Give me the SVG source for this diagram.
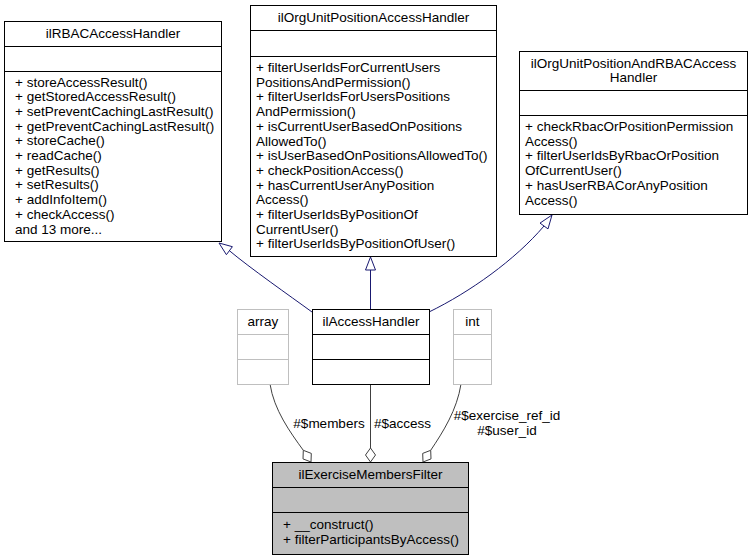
<svg xmlns="http://www.w3.org/2000/svg" width="752" height="560" viewBox="0 0 752 560">
<style>
text{font-family:"Liberation Sans",Arial,Helvetica,sans-serif;font-size:13.5px;fill:#000}
.c{text-anchor:middle}
.box{fill:#fff;stroke:#000;stroke-width:1}
.gbox{fill:#fff;stroke:#bfbfbf;stroke-width:1}
.cur{fill:#bfbfbf;stroke:#000;stroke-width:1}
.sep{stroke:#000;stroke-width:1}
.gsep{stroke:#bfbfbf;stroke-width:1}
.inh{fill:none;stroke:#191970;stroke-width:1}
.inhh{fill:#fff;stroke:#191970;stroke-width:1}
.agg{fill:none;stroke:#404040;stroke-width:1}
.aggh{fill:#fff;stroke:#404040;stroke-width:1}
</style>
<rect width="752" height="560" fill="#fff"/>

<g id="connectors">
  <path class="inh" d="M312,312 C290,296 250,268 229.4,250.7"/>
  <polygon class="inhh" points="219,243 232.4,246.7 226.4,254.7"/>
  <path class="inh" d="M370.5,309 L370.5,270"/>
  <polygon class="inhh" points="370.5,257 375.5,270 365.5,270"/>
  <path class="inh" d="M429,312 C470,292 515,260 544,226"/>
  <polygon class="inhh" points="552,215 548,228.9 540,223.1"/>
  <path class="agg" d="M270,384 C274,410 290,432 303.3,450.3"/>
  <polygon class="aggh" points="311,462 311.3,453.4 303.3,450.3 303,458.9"/>
  <path class="agg" d="M370.5,384 L370.5,448"/>
  <polygon class="aggh" points="370.5,462 375.5,455 370.5,448 365.5,455"/>
  <path class="agg" d="M461,384 C457,410 443,432 430.7,450.3"/>
  <polygon class="aggh" points="423,462 422.7,453.4 430.7,450.3 431,458.9"/>
  <text class="c" x="329" y="427.5">#$members</text>
  <text class="c" x="402.5" y="427.5">#$access</text>
  <text class="c" x="507" y="419.5">#$exercise_ref_id</text>
  <text class="c" x="507" y="434.5">#$user_id</text>
</g>

<g id="ilRBACAccessHandler">
  <rect class="box" x="4.5" y="21.5" width="217" height="220"/>
  <line class="sep" x1="4.5" y1="46.5" x2="221.5" y2="46.5"/>
  <line class="sep" x1="4.5" y1="71.5" x2="221.5" y2="71.5"/>
  <text class="c" x="113" y="38">ilRBACAccessHandler</text>
  <text x="15" y="86.5">+ storeAccessResult()</text>
  <text x="15" y="101.2">+ getStoredAccessResult()</text>
  <text x="15" y="115.9">+ setPreventCachingLastResult()</text>
  <text x="15" y="130.6">+ getPreventCachingLastResult()</text>
  <text x="15" y="145.3">+ storeCache()</text>
  <text x="15" y="160">+ readCache()</text>
  <text x="15" y="174.7">+ getResults()</text>
  <text x="15" y="189.4">+ setResults()</text>
  <text x="15" y="204.1">+ addInfoItem()</text>
  <text x="15" y="218.8">+ checkAccess()</text>
  <text x="15" y="233.5">and 13 more...</text>
</g>

<g id="ilOrgUnitPositionAccessHandler">
  <rect class="box" x="250.5" y="5.5" width="246" height="251"/>
  <line class="sep" x1="250.5" y1="30.5" x2="496.5" y2="30.5"/>
  <line class="sep" x1="250.5" y1="56.5" x2="496.5" y2="56.5"/>
  <text class="c" x="373.5" y="22">ilOrgUnitPositionAccessHandler</text>
  <text x="256" y="72">+ filterUserIdsForCurrentUsers</text>
  <text x="256" y="86.7">PositionsAndPermission()</text>
  <text x="256" y="101.4">+ filterUserIdsForUsersPositions</text>
  <text x="256" y="116.1">AndPermission()</text>
  <text x="256" y="130.8">+ isCurrentUserBasedOnPositions</text>
  <text x="256" y="145.5">AllowedTo()</text>
  <text x="256" y="160.2">+ isUserBasedOnPositionsAllowedTo()</text>
  <text x="256" y="174.9">+ checkPositionAccess()</text>
  <text x="256" y="189.6">+ hasCurrentUserAnyPosition</text>
  <text x="256" y="204.3">Access()</text>
  <text x="256" y="219">+ filterUserIdsByPositionOf</text>
  <text x="256" y="233.7">CurrentUser()</text>
  <text x="256" y="248.4">+ filterUserIdsByPositionOfUser()</text>
</g>

<g id="ilOrgUnitPositionAndRBACAccessHandler">
  <rect class="box" x="519.5" y="51.5" width="228" height="163"/>
  <line class="sep" x1="519.5" y1="90.5" x2="747.5" y2="90.5"/>
  <line class="sep" x1="519.5" y1="115.5" x2="747.5" y2="115.5"/>
  <text class="c" x="633.5" y="68">ilOrgUnitPositionAndRBACAccess</text>
  <text class="c" x="633.5" y="82">Handler</text>
  <text x="525" y="131">+ checkRbacOrPositionPermission</text>
  <text x="525" y="145.7">Access()</text>
  <text x="525" y="160.4">+ filterUserIdsByRbacOrPosition</text>
  <text x="525" y="175.1">OfCurrentUser()</text>
  <text x="525" y="189.8">+ hasUserRBACorAnyPosition</text>
  <text x="525" y="204.5">Access()</text>
</g>

<g id="array">
  <rect class="gbox" x="237.5" y="309.5" width="51" height="75"/>
  <line class="gsep" x1="237.5" y1="334.5" x2="288.5" y2="334.5"/>
  <line class="gsep" x1="237.5" y1="359.5" x2="288.5" y2="359.5"/>
  <text class="c" x="263" y="326">array</text>
</g>

<g id="ilAccessHandler">
  <rect class="box" x="312.5" y="309.5" width="117" height="75"/>
  <line class="sep" x1="312.5" y1="334.5" x2="429.5" y2="334.5"/>
  <line class="sep" x1="312.5" y1="359.5" x2="429.5" y2="359.5"/>
  <text class="c" x="371" y="326">ilAccessHandler</text>
</g>

<g id="int">
  <rect class="gbox" x="453.5" y="309.5" width="38" height="75"/>
  <line class="gsep" x1="453.5" y1="334.5" x2="491.5" y2="334.5"/>
  <line class="gsep" x1="453.5" y1="359.5" x2="491.5" y2="359.5"/>
  <text class="c" x="472.5" y="326">int</text>
</g>

<g id="ilExerciseMembersFilter">
  <rect class="cur" x="272.5" y="462.5" width="196" height="92"/>
  <line class="sep" x1="272.5" y1="487.5" x2="468.5" y2="487.5"/>
  <line class="sep" x1="272.5" y1="512.5" x2="468.5" y2="512.5"/>
  <text class="c" x="370.5" y="479">ilExerciseMembersFilter</text>
  <text x="283" y="529">+ __construct()</text>
  <text x="283" y="543.7">+ filterParticipantsByAccess()</text>
</g>
</svg>
